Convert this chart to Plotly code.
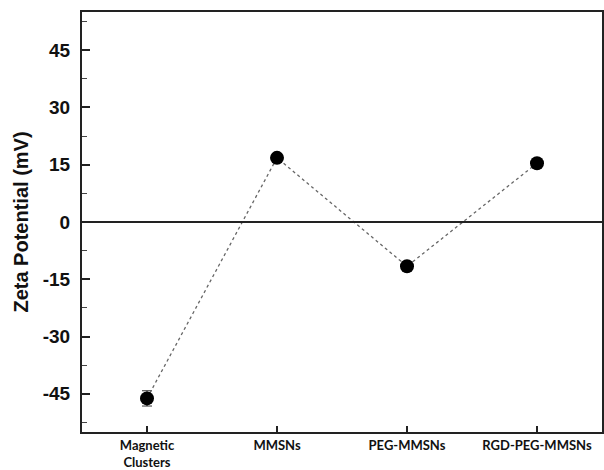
import plotly.graph_objects as go

categories = ["Magnetic<br>Clusters", "MMSNs", "PEG-MMSNs", "RGD-PEG-MMSNs"]
zeta = [-46.2, 16.8, -11.6, 15.4]
zeta_err = [2.0, 0.8, 0.8, 1.0]
y_ticks = [-45, -30, -15, 0, 15, 30, 45]
y_tick_labels = ["-45", "-30", "-15", "0", "15", "30", "45"]

xs = list(range(len(categories)))

fig = go.Figure()
fig.add_trace(go.Scatter(
    x=xs, y=zeta,
    mode="lines+markers",
    line=dict(color="#666666", width=1.3, dash="3px,3px"),
    marker=dict(color="black", size=14, symbol="circle"),
    error_y=dict(type="data", array=zeta_err, color="#333333", thickness=1, width=5),
    showlegend=False,
))

fig.add_hline(y=0, line=dict(color="#222222", width=2))

fig.update_layout(
    width=604, height=470,
    margin=dict(l=82, r=2, t=12, b=38),
    plot_bgcolor="white", paper_bgcolor="white",
    xaxis=dict(
        range=[-0.5, 3.5], automargin=False,
        tickmode="array", tickvals=xs, ticktext=categories,
        ticks="inside", ticklen=6, tickwidth=1.5, tickcolor="#222222",
        showline=True, linecolor="#222222", linewidth=2, mirror=True,
        showgrid=False, zeroline=False,
        tickfont=dict(family="Lato", size=13, color="#111111", weight="bold"),
        ticklabelstandoff=0,
    ),
    yaxis=dict(
        range=[-55, 55], automargin=False,
        tickmode="array", tickvals=y_ticks, ticktext=y_tick_labels,
        ticks="inside", ticklen=8, tickwidth=1.5, tickcolor="#222222",
        minor=dict(dtick=7.5, tick0=0, ticks="inside", ticklen=5, tickwidth=1.2, tickcolor="#444444"),
        showline=True, linecolor="#222222", linewidth=2, mirror=True,
        showgrid=False, zeroline=False,
        tickfont=dict(family="Liberation Sans", size=19, color="#111111", weight="bold"),
        ticklabelstandoff=6,
        title=dict(text="Zeta Potential (mV)", standoff=9,
                   font=dict(family="Liberation Sans", size=20, color="#111111", weight="bold")),
    ),
)

fig.write_html("out.html")
